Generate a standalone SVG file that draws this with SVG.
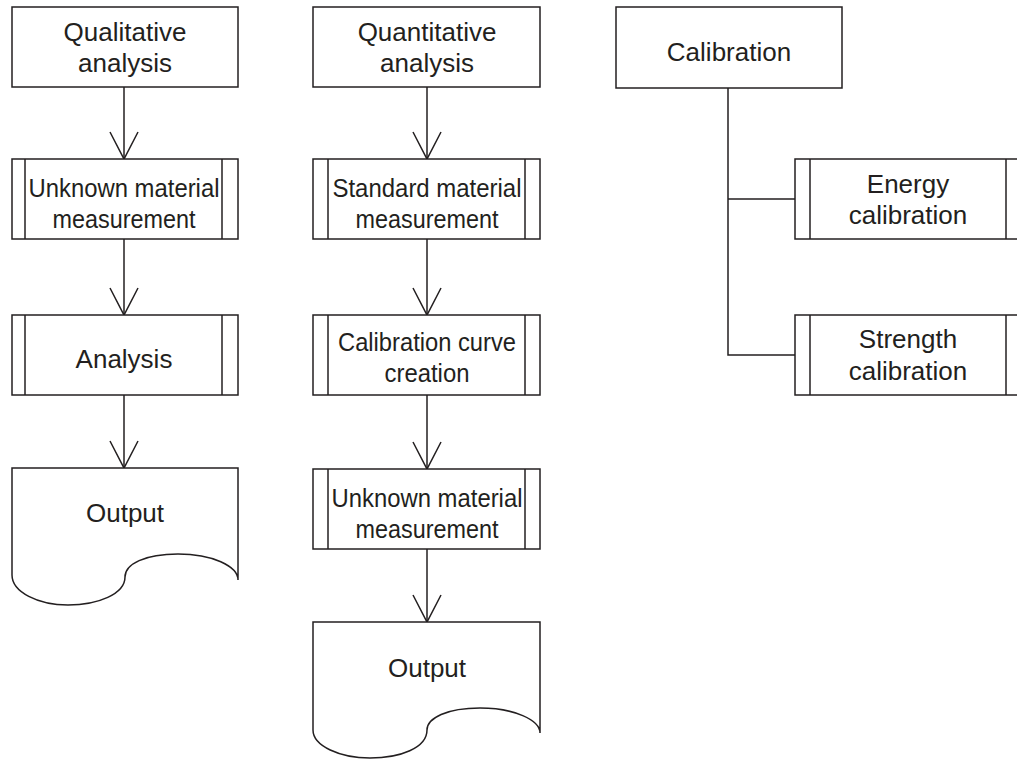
<svg xmlns="http://www.w3.org/2000/svg" width="1017" height="760" viewBox="0 0 1017 760">
<style>
.box{fill:#fff;stroke:#231f20;stroke-width:1.5}
.ln{fill:none;stroke:#231f20;stroke-width:1.5}
.t{font-family:"Liberation Sans",Arial,sans-serif;font-size:26px;fill:#231f20;text-anchor:middle}
</style>
<defs>
<marker id="arr" markerUnits="userSpaceOnUse" markerWidth="32" markerHeight="32" viewBox="-16 -30 32 32" refX="0" refY="0" orient="auto-start-reverse" overflow="visible">
<path d="M-27,-14 L0,0 L-27,14" fill="none" stroke="#231f20" stroke-width="1.5"/>
</marker>
</defs>
<rect width="1017" height="760" fill="#fff"/>
<g id="connectors">
<line class="ln" x1="124" y1="87" x2="124" y2="159" marker-end="url(#arr)"/>
<line class="ln" x1="124" y1="239" x2="124" y2="315" marker-end="url(#arr)"/>
<line class="ln" x1="124" y1="395" x2="124" y2="468" marker-end="url(#arr)"/>
<line class="ln" x1="427" y1="87" x2="427" y2="159" marker-end="url(#arr)"/>
<line class="ln" x1="427" y1="239" x2="427" y2="315" marker-end="url(#arr)"/>
<line class="ln" x1="427" y1="395" x2="427" y2="469" marker-end="url(#arr)"/>
<line class="ln" x1="427" y1="549" x2="427" y2="622" marker-end="url(#arr)"/>
<path class="ln" d="M728,88 V355 H795 M728,199 H795"/>
</g>
<g id="qualitative">
<rect class="box" x="12" y="7" width="226" height="80"/>
<text class="t" x="125" y="41">Qualitative</text>
<text class="t" x="125" y="72">analysis</text>
</g>
<g id="unknown1">
<rect class="box" x="12" y="159" width="226" height="80"/>
<line class="ln" x1="25" y1="159" x2="25" y2="239"/>
<line class="ln" x1="222" y1="159" x2="222" y2="239"/>
<text class="t" x="124" y="197" textLength="191" lengthAdjust="spacingAndGlyphs">Unknown material</text>
<text class="t" x="124" y="228" textLength="143" lengthAdjust="spacingAndGlyphs">measurement</text>
</g>
<g id="analysis">
<rect class="box" x="12" y="315" width="226" height="80"/>
<line class="ln" x1="25" y1="315" x2="25" y2="395"/>
<line class="ln" x1="222" y1="315" x2="222" y2="395"/>
<text class="t" x="124" y="368">Analysis</text>
</g>
<g id="output1">
<path class="box" d="M12,468 H238 V580 C238,566 212,554 178,554 C145,554 125,564 125,577 C125,594 98,605 68,605 C38,605 12,592 12,575 Z"/>
<text class="t" x="125" y="522">Output</text>
</g>
<g id="quantitative">
<rect class="box" x="313" y="7" width="227" height="80"/>
<text class="t" x="427" y="41">Quantitative</text>
<text class="t" x="427" y="72">analysis</text>
</g>
<g id="standard">
<rect class="box" x="313" y="159" width="227" height="80"/>
<line class="ln" x1="328" y1="159" x2="328" y2="239"/>
<line class="ln" x1="525" y1="159" x2="525" y2="239"/>
<text class="t" x="427" y="197" textLength="189" lengthAdjust="spacingAndGlyphs">Standard material</text>
<text class="t" x="427" y="228" textLength="143" lengthAdjust="spacingAndGlyphs">measurement</text>
</g>
<g id="curve">
<rect class="box" x="313" y="315" width="227" height="80"/>
<line class="ln" x1="328" y1="315" x2="328" y2="395"/>
<line class="ln" x1="525" y1="315" x2="525" y2="395"/>
<text class="t" x="427" y="351" textLength="178" lengthAdjust="spacingAndGlyphs">Calibration curve</text>
<text class="t" x="427" y="382" textLength="85" lengthAdjust="spacingAndGlyphs">creation</text>
</g>
<g id="unknown2">
<rect class="box" x="313" y="469" width="227" height="80"/>
<line class="ln" x1="328" y1="469" x2="328" y2="549"/>
<line class="ln" x1="525" y1="469" x2="525" y2="549"/>
<text class="t" x="427" y="507" textLength="191" lengthAdjust="spacingAndGlyphs">Unknown material</text>
<text class="t" x="427" y="538" textLength="143" lengthAdjust="spacingAndGlyphs">measurement</text>
</g>
<g id="output2">
<path class="box" d="M313,622 H540 V733 C540,720 514,708 480,708 C447,708 427,718 427,730 C427,748 400,758 370,758 C340,758 313,746 313,730 Z"/>
<text class="t" x="427" y="677">Output</text>
</g>
<g id="calibration">
<rect class="box" x="616" y="7" width="226" height="81"/>
<text class="t" x="729" y="61">Calibration</text>
</g>
<g id="energy">
<rect class="box" x="795" y="159" width="226" height="80"/>
<line class="ln" x1="810" y1="159" x2="810" y2="239"/>
<line class="ln" x1="1006" y1="159" x2="1006" y2="239"/>
<text class="t" x="908" y="193">Energy</text>
<text class="t" x="908" y="224">calibration</text>
</g>
<g id="strength">
<rect class="box" x="795" y="315" width="226" height="80"/>
<line class="ln" x1="810" y1="315" x2="810" y2="395"/>
<line class="ln" x1="1006" y1="315" x2="1006" y2="395"/>
<text class="t" x="908" y="348">Strength</text>
<text class="t" x="908" y="380">calibration</text>
</g>
</svg>
